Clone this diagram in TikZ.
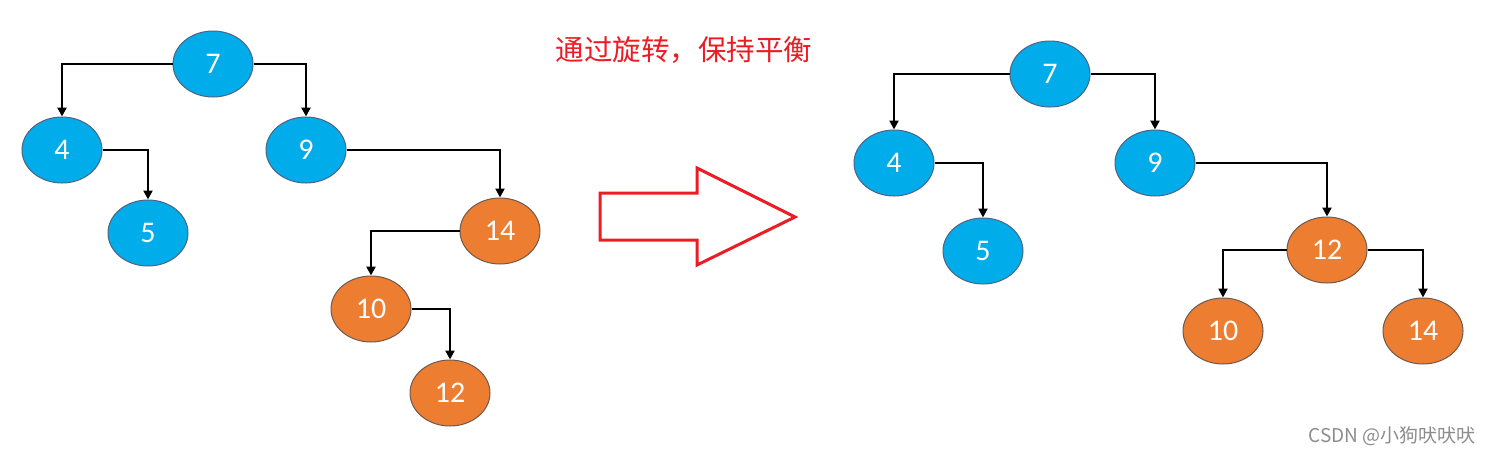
\documentclass[tikz,border=0pt]{standalone}
\usepackage{fontspec}
\setmainfont{Carlito}
\newfontfamily\cjk{Noto Sans CJK SC}
\usetikzlibrary{shapes.geometric,arrows.meta}
\definecolor{nblue}{RGB}{0,172,234}
\definecolor{norange}{RGB}{237,125,49}
\definecolor{nborder}{RGB}{80,100,130}
\definecolor{nborderO}{RGB}{110,90,80}
\definecolor{arrred}{RGB}{236,28,36}
\tikzset{
  x=1pt,y=-1pt,
  tn/.style={ellipse,inner sep=0pt,minimum width=80pt,minimum height=66pt,
    draw=nborder,line width=1pt,text=white,font=\fontsize{30}{30}\selectfont},
  bn/.style={tn,fill=nblue},
  on/.style={tn,fill=norange,draw=nborderO},
  link/.style={draw=black,line width=2.5pt,-{Triangle[length=9pt,width=9pt]}},
}
\begin{document}
\begin{tikzpicture}
\useasboundingbox (0,0) rectangle (1494,455);
% left tree
\node[bn] (a7) at (213,64) {7};
\node[bn] (a4) at (62,150) {4};
\node[bn] (a9) at (306,150) {9};
\node[bn] (a5) at (148,233) {5};
\node[on] (a14) at (500,231) {14};
\node[on] (a10) at (371,309) {10};
\node[on] (a12) at (450,393) {12};
\draw[link] (a7.west) -| (a4.north);
\draw[link] (a7.east) -| (a9.north);
\draw[link] (a4.east) -| (a5.north);
\draw[link] (a9.east) -| (a14.north);
\draw[link] (a14.west) -| (a10.north);
\draw[link] (a10.east) -| (a12.north);
% title
\node[text=arrred,font=\cjk\fontsize{28.5}{30}\selectfont,anchor=center] (title) at (684,50) {通过旋转，保持平衡};
% big arrow
\draw[arrred,line width=3pt,line join=miter]
  (600,193) -- (697,193) -- (697,168) -- (795,217) -- (697,265) -- (697,240) -- (600,240) -- cycle;
% right tree
\node[bn] (b7) at (1050,74) {7};
\node[bn] (b4) at (894,163) {4};
\node[bn] (b9) at (1155,163) {9};
\node[bn] (b5) at (983,251) {5};
\node[on] (b12) at (1327,250) {12};
\node[on] (b10) at (1223,331) {10};
\node[on] (b14) at (1423,331) {14};
\draw[link] (b7.west) -| (b4.north);
\draw[link] (b7.east) -| (b9.north);
\draw[link] (b4.east) -| (b5.north);
\draw[link] (b9.east) -| (b12.north);
\draw[link] (b12.west) -| (b10.north);
\draw[link] (b12.east) -| (b14.north);
% watermark
\node[text=black!45,font=\cjk\fontsize{19}{21}\selectfont,anchor=east] (wm) at (1479,436) {CSDN @小狗吠吠吠};
\end{tikzpicture}
\end{document}
